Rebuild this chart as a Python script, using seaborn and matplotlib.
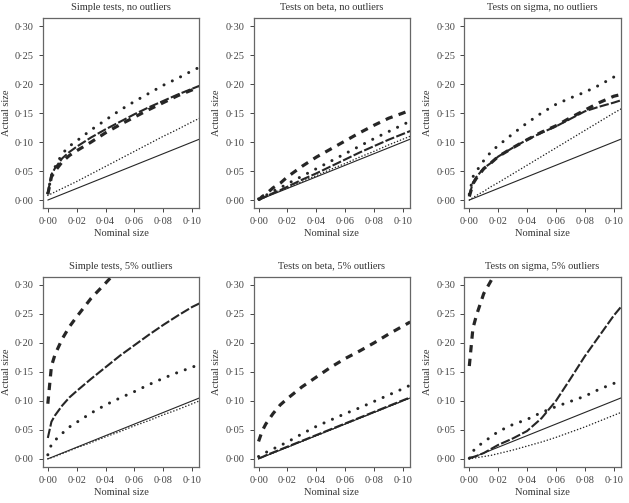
import matplotlib
matplotlib.use("Agg")
import matplotlib.pyplot as plt
from matplotlib.ticker import FuncFormatter
import seaborn as sns

# nominal size grid shared by every curve
nominal = [0, 0.0025, 0.005, 0.01, 0.015, 0.02, 0.03, 0.04, 0.05, 0.06, 0.07, 0.08, 0.09, 0.10, 0.105]

titles = [
    "Simple tests, no outliers", "Tests on beta, no outliers", "Tests on sigma, no outliers",
    "Simple tests, 5% outliers", "Tests on beta, 5% outliers", "Tests on sigma, 5% outliers",
]

# simple tests, no outliers
simple_clean_fine = [.008, .011, .014, .020, .026, .032, .045, .058, .071, .084, .097, .110, .122, .135, .141]
simple_clean_bold = [.012, .042, .057, .080, .093, .102, .121, .138, .155, .170, .184, .198, .210, .223, .229]
simple_clean_long = [.012, .044, .055, .072, .083, .092, .108, .122, .135, .148, .160, .171, .182, .192, .197]
simple_clean_heavy = [.010, .040, .050, .066, .077, .085, .100, .116, .130, .143, .156, .168, .180, .190, .195]

# tests on beta, no outliers
beta_clean_fine = [0, .003, .005, .011, .016, .021, .032, .042, .053, .063, .074, .084, .095, .105, .110]
beta_clean_bold = [.002, .005, .008, .015, .021, .028, .041, .054, .067, .080, .093, .106, .118, .130, .136]
beta_clean_long = [0, .003, .006, .012, .017, .023, .035, .046, .058, .070, .082, .093, .104, .114, .119]
beta_clean_heavy = [0, .006, .010, .021, .029, .040, .058, .074, .088, .102, .116, .129, .141, .150, .155]

# tests on sigma, no outliers
sigma_clean_fine = [0, .004, .008, .015, .023, .030, .045, .060, .075, .090, .105, .120, .135, .150, .157]
sigma_clean_bold = [.010, .040, .050, .068, .083, .094, .114, .133, .150, .165, .176, .186, .198, .212, .218]
sigma_clean_long = [.008, .030, .040, .055, .064, .075, .090, .104, .116, .127, .140, .153, .161, .168, .172]
sigma_clean_heavy = [.006, .028, .038, .054, .064, .075, .090, .104, .117, .128, .142, .155, .168, .179, .182]

# simple tests, 5% outliers
simple_out_fine = [0, .002, .004, .009, .014, .019, .028, .038, .047, .057, .066, .076, .085, .095, .100]
simple_out_bold = [.007, .025, .032, .044, .055, .063, .079, .093, .105, .116, .128, .139, .149, .158, .163]
simple_out_long = [.036, .064, .075, .092, .106, .117, .138, .158, .178, .196, .214, .231, .247, .262, .268]
simple_out_heavy = [.095, .160, .180, .207, .228, .245, .277, .303, .330, .355, .380, .400, .420, .440, .450]

# tests on beta, 5% outliers
beta_out_fine = [0, .003, .005, .010, .015, .020, .030, .040, .050, .060, .070, .080, .090, .100, .105]
beta_out_bold = [.004, .008, .011, .017, .023, .029, .043, .056, .067, .078, .088, .099, .110, .121, .127]
beta_out_long = [.001, .003, .006, .011, .016, .021, .031, .041, .051, .061, .071, .081, .091, .101, .106]
beta_out_heavy = [.030, .048, .060, .078, .093, .104, .124, .141, .158, .173, .186, .200, .215, .229, .236]

# tests on sigma, 5% outliers
sigma_out_fine = [0, .001, .002, .004, .006, .009, .015, .022, .029, .037, .046, .055, .065, .075, .080]
sigma_out_bold = [.001, .013, .020, .029, .038, .047, .059, .068, .080, .090, .099, .108, .120, .130, .134]
sigma_out_long = [.002, .003, .005, .010, .017, .024, .035, .048, .070, .100, .138, .177, .212, .247, .262]
sigma_out_heavy = [.160, .225, .248, .285, .307, .330, .370, .410, .450, .490, .530, .570, .610, .650, .670]

panels = [
    (simple_clean_fine, simple_clean_bold, simple_clean_long, simple_clean_heavy),
    (beta_clean_fine, beta_clean_bold, beta_clean_long, beta_clean_heavy),
    (sigma_clean_fine, sigma_clean_bold, sigma_clean_long, sigma_clean_heavy),
    (simple_out_fine, simple_out_bold, simple_out_long, simple_out_heavy),
    (beta_out_fine, beta_out_bold, beta_out_long, beta_out_heavy),
    (sigma_out_fine, sigma_out_bold, sigma_out_long, sigma_out_heavy),
]

ink = "#262626"
styles = [
    dict(linewidth=1.1, linestyle=(0, (0.1, 2.0)), dash_capstyle="round"),   # fine dotted
    dict(linewidth=2.2, linestyle=(0, (0.01, 3.0)), dash_capstyle="round"),  # bold dotted
    dict(linewidth=1.5, linestyle=(0, (4.5, 1.1))),                          # long dash
    dict(linewidth=2.3, linestyle=(0, (2.3, 2.0))),                          # heavy dash
]

sns.set_style("ticks")
plt.rcParams["font.family"] = ["Liberation Serif", "DejaVu Serif"]
plt.rcParams["text.color"] = "#333333"
plt.rcParams["axes.labelcolor"] = "#333333"
plt.rcParams["xtick.color"] = "#444444"
plt.rcParams["ytick.color"] = "#444444"

fig, axes = plt.subplots(2, 3, figsize=(6.29, 5.03), dpi=100)
fig.subplots_adjust(left=0.068, right=0.987, bottom=0.072, top=0.964, wspace=0.346, hspace=0.363)

fmt = FuncFormatter(lambda v, pos: f"{v:.2f}".replace(".", "\u00b7"))

for ax, title, series in zip(axes.flat, titles, panels):
    sns.lineplot(x=nominal, y=nominal, ax=ax, color=ink, linewidth=0.8, errorbar=None)
    for values, st in zip(series, styles):
        sns.lineplot(x=nominal, y=values, ax=ax, color=ink, errorbar=None, **st)

    ax.set_xlim(-0.0035, 0.1049)
    ax.set_ylim(-0.0137, 0.3137)
    ax.set_xticks([0, 0.02, 0.04, 0.06, 0.08, 0.10])
    ax.set_yticks([0, 0.05, 0.10, 0.15, 0.20, 0.25, 0.30])
    ax.xaxis.set_major_formatter(fmt)
    ax.yaxis.set_major_formatter(fmt)
    ax.tick_params(labelsize=7.5, length=3, width=0.7, direction="out")
    for sp in ax.spines.values():
        sp.set_color("#666666")
        sp.set_linewidth(0.9)
    ax.set_title(title, fontsize=7.5, pad=6)
    ax.set_xlabel("Nominal size", fontsize=7.5, labelpad=2)
    ax.set_ylabel("Actual size", fontsize=7.5, labelpad=3)

fig.savefig("out.png", dpi=100)
